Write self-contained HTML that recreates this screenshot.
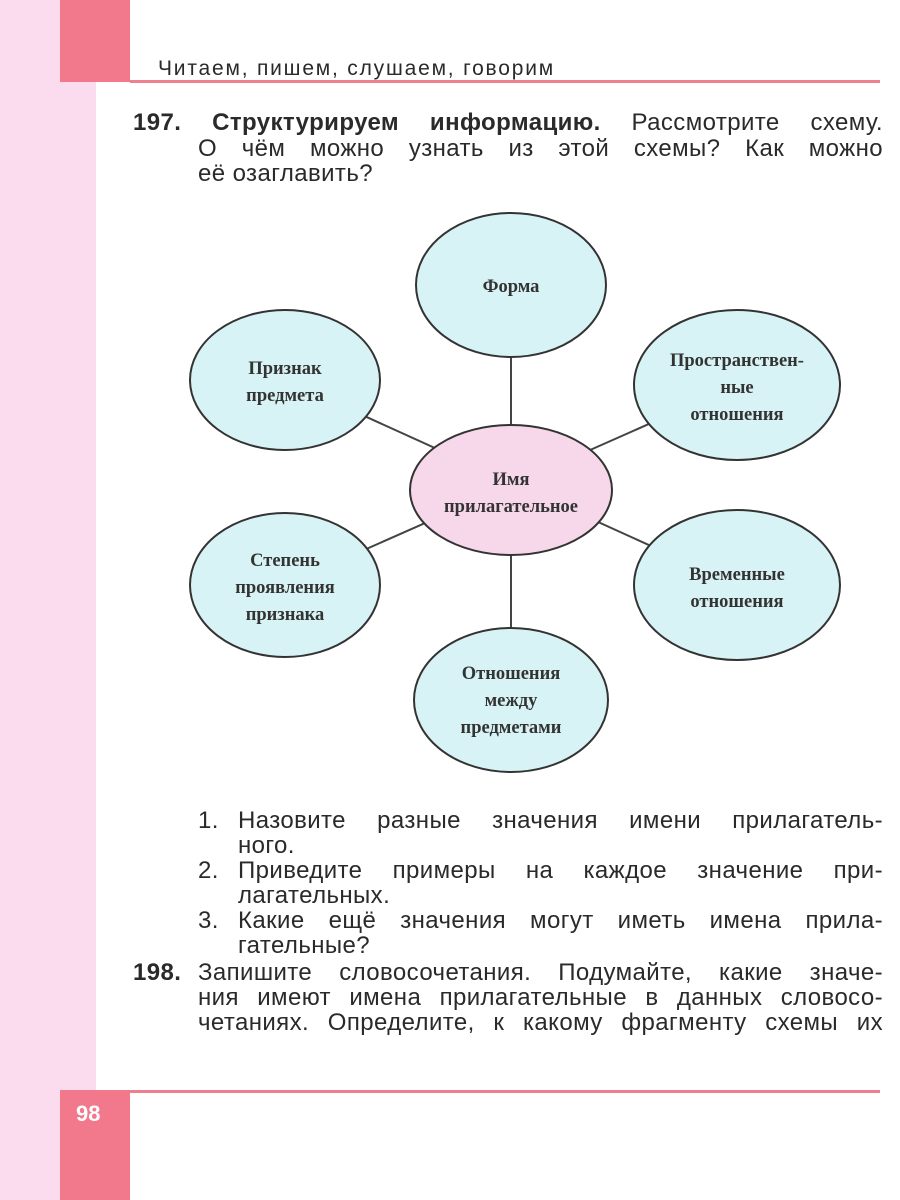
<!DOCTYPE html>
<html><head><meta charset="utf-8"><style>
body{margin:0;width:900px;height:1200px;position:relative;background:#fff;overflow:hidden;font-family:"Liberation Sans",sans-serif;color:#2a2a2a}
.a{position:absolute}
.t{position:absolute;font-size:24px;letter-spacing:0.4px;white-space:nowrap;line-height:25px}
.j{text-align:justify;text-align-last:justify;width:100%;display:block}
</style></head><body>
<div class="a" style="left:0;top:0;width:62px;height:1200px;background:#fadcee"></div>
<div class="a" style="left:62px;top:82px;width:34px;height:1010px;background:#fadcee"></div>
<div class="a" style="left:60px;top:0;width:70px;height:82px;background:#f2788c"></div>
<div class="a" style="left:60px;top:1090px;width:70px;height:110px;background:#f2788c"></div>
<div class="a" style="left:130px;top:80px;width:750px;height:3px;background:#ee7f90"></div>
<div class="a" style="left:130px;top:1090px;width:750px;height:3px;background:#ee7f90"></div>
<div class="t" style="left:158px;top:56px;font-size:21px;letter-spacing:1.8px">Читаем, пишем, слушаем, говорим</div>
<div class="a" style="left:76px;top:1101px;color:#fff;font-weight:bold;font-size:22px">98</div>

<div class="t" style="left:133px;top:110px;width:750px"><span class="j"><b>197. Структурируем информацию.</b> Рассмотрите схему.</span></div>
<div class="t" style="left:198px;top:136px;width:685px"><span class="j">О чём можно узнать из этой схемы? Как можно</span></div>
<div class="t" style="left:198px;top:161px">её озаглавить?</div>

<svg class="a" style="left:0;top:0" width="900" height="1200">
<g stroke="#444" stroke-width="2">
<line x1="511" y1="355" x2="511" y2="630"/>
<line x1="285" y1="380" x2="737" y2="585"/>
<line x1="737" y1="385" x2="285" y2="585"/>
</g>
<g stroke="#333" stroke-width="2" fill="#d8f3f5">
<ellipse cx="511" cy="285" rx="95" ry="72"/>
<ellipse cx="285" cy="380" rx="95" ry="70"/>
<ellipse cx="737" cy="385" rx="103" ry="75"/>
<ellipse cx="285" cy="585" rx="95" ry="72"/>
<ellipse cx="737" cy="585" rx="103" ry="75"/>
<ellipse cx="511" cy="700" rx="97" ry="72"/>
<ellipse cx="511" cy="490" rx="101" ry="65" fill="#f7d8ea"/>
</g>
<g font-family="Liberation Serif,serif" font-weight="bold" font-size="18.5" fill="#333" text-anchor="middle">
<text x="511" y="292">Форма</text>
<text x="285" y="374">Признак</text><text x="285" y="401">предмета</text>
<text x="737" y="366">Пространствен-</text><text x="737" y="393">ные</text><text x="737" y="420">отношения</text>
<text x="511" y="485">Имя</text><text x="511" y="512">прилагательное</text>
<text x="285" y="566">Степень</text><text x="285" y="593">проявления</text><text x="285" y="620">признака</text>
<text x="737" y="580">Временные</text><text x="737" y="607">отношения</text>
<text x="511" y="679">Отношения</text><text x="511" y="706">между</text><text x="511" y="733">предметами</text>
</g>
</svg>

<div class="t" style="left:198px;top:808px">1.</div>
<div class="t" style="left:238px;top:808px;width:645px"><span class="j">Назовите разные значения имени прилагатель-</span></div>
<div class="t" style="left:238px;top:833px">ного.</div>
<div class="t" style="left:198px;top:858px">2.</div>
<div class="t" style="left:238px;top:858px;width:645px"><span class="j">Приведите примеры на каждое значение при-</span></div>
<div class="t" style="left:238px;top:883px">лагательных.</div>
<div class="t" style="left:198px;top:908px">3.</div>
<div class="t" style="left:238px;top:908px;width:645px"><span class="j">Какие ещё значения могут иметь имена прила-</span></div>
<div class="t" style="left:238px;top:933px">гательные?</div>

<div class="t" style="left:133px;top:960px"><b>198.</b></div>
<div class="t" style="left:198px;top:960px;width:685px"><span class="j">Запишите словосочетания. Подумайте, какие значе-</span></div>
<div class="t" style="left:198px;top:985px;width:685px"><span class="j">ния имеют имена прилагательные в данных словосо-</span></div>
<div class="t" style="left:198px;top:1010px;width:685px"><span class="j">четаниях. Определите, к какому фрагменту схемы их</span></div>
</body></html>
